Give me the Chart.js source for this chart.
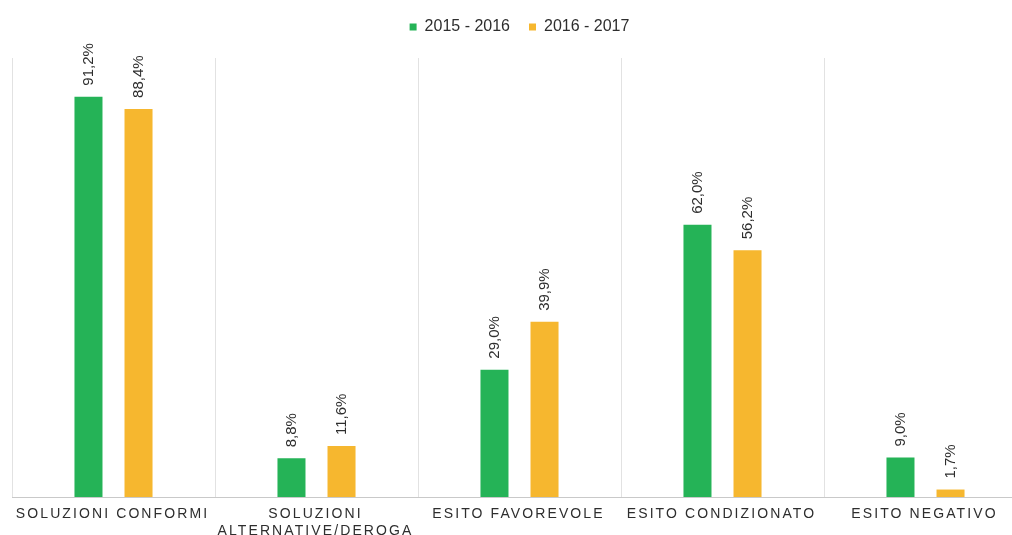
<!DOCTYPE html>
<html>
<head>
<meta charset="utf-8">
<script src="https://cdn.jsdelivr.net/npm/chart.js@4.4.0/dist/chart.umd.min.js"></script>
<style>
  html, body { margin: 0; padding: 0; background: #fff; overflow: hidden; }
  #wrap { width: 1040px; height: 535px; position: relative; }
</style>
</head>
<body>
<div id="wrap"><canvas id="c" width="1040" height="535"></canvas></div>
<script>
// Category names (multi-line where the label wraps)
const categories = [
  ['SOLUZIONI CONFORMI'],
  ['SOLUZIONI', 'ALTERNATIVE/DEROGA'],
  ['ESITO FAVOREVOLE'],
  ['ESITO CONDIZIONATO'],
  ['ESITO NEGATIVO']
];
const seriesNames = ['2015 - 2016', '2016 - 2017'];
const values2015 = [91.2, 8.8, 29.0, 62.0, 9.0];
const values2016 = [88.4, 11.6, 39.9, 56.2, 1.7];
const seriesColors = ['#25b357', '#f6b72f'];

const FONT = 'Arial, "Liberation Sans", sans-serif';

// Extra room between legend and plot area
const legendSpacer = {
  id: 'legendSpacer',
  beforeUpdate(chart) {
    const lg = chart.legend;
    if (lg && !lg._spaced) {
      const fit = lg.fit.bind(lg);
      lg.fit = function () { fit(); this.height += 13; };
      lg._spaced = true;
    }
  }
};

// Rotated percentage labels above each bar
const valueLabels = {
  id: 'valueLabels',
  afterDatasetsDraw(chart) {
    const ctx = chart.ctx;
    chart.data.datasets.forEach((ds, i) => {
      const meta = chart.getDatasetMeta(i);
      meta.data.forEach((bar, j) => {
        const txt = ds.data[j].toFixed(1).replace('.', ',') + '%';
        ctx.save();
        ctx.translate(bar.x, bar.y - 11);
        ctx.rotate(-Math.PI / 2);
        ctx.font = '15px ' + FONT;
        ctx.fillStyle = '#2e2e2e';
        ctx.textAlign = 'left';
        ctx.textBaseline = 'middle';
        ctx.fillText(txt, 0, 0);
        ctx.restore();
      });
    });
  }
};

// Letter-spaced category names under the axis
const categoryLabels = {
  id: 'categoryLabels',
  afterDraw(chart) {
    const ctx = chart.ctx;
    const xs = chart.scales.x;
    const spacing = 2.1;
    ctx.save();
    ctx.font = '14px ' + FONT;
    ctx.fillStyle = '#2e2e2e';
    ctx.letterSpacing = spacing + 'px';
    ctx.textAlign = 'center';
    ctx.textBaseline = 'middle';
    categories.forEach((lines, j) => {
      const x = xs.getPixelForValue(j) - 1;
      lines.forEach((line, k) => {
        ctx.fillText(line, x, chart.chartArea.bottom + 17 + k * 17);
      });
    });
    ctx.restore();
  }
};

new Chart(document.getElementById('c'), {
  type: 'bar',
  data: {
    labels: categories,
    datasets: [
      { label: seriesNames[0], data: values2015, backgroundColor: seriesColors[0], borderWidth: 0 },
      { label: seriesNames[1], data: values2016, backgroundColor: seriesColors[1], borderWidth: 0 }
    ]
  },
  options: {
    responsive: false,
    animation: false,
    devicePixelRatio: 1,
    categoryPercentage: 0.493,
    barPercentage: 0.56,
    layout: { padding: { left: 12, right: 13, top: 0, bottom: 38 } },
    plugins: {
      legend: {
        position: 'top',
        labels: {
          boxWidth: 7,
          boxHeight: 7,
          padding: 19,
          color: '#2e2e2e',
          font: { family: FONT, size: 16 }
        }
      },
      tooltip: { enabled: false }
    },
    scales: {
      x: {
        grid: { display: true, offset: true, color: '#e2e2e2', drawTicks: false, lineWidth: 1 },
        border: { display: true, color: '#c9c9c9' },
        ticks: { display: false }
      },
      y: {
        display: false,
        min: 0,
        max: 100
      }
    }
  },
  plugins: [legendSpacer, valueLabels, categoryLabels]
});
</script>
</body>
</html>
